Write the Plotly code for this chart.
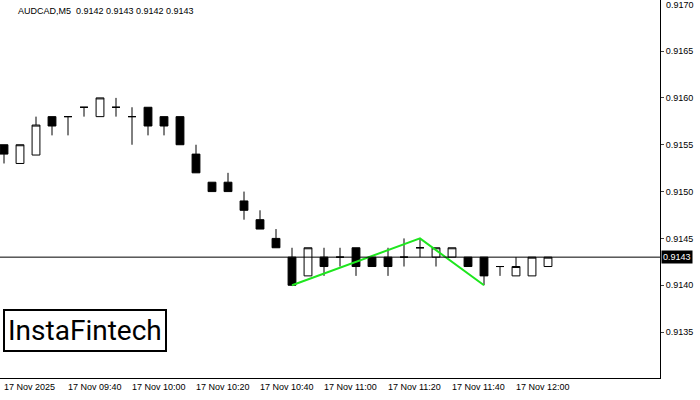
import plotly.graph_objects as go

times = ["09:20","09:25","09:30","09:35","09:40","09:45","09:50","09:55","10:00","10:05","10:10","10:15","10:20","10:25","10:30","10:35","10:40","10:45","10:50","10:55","11:00","11:05","11:10","11:15","11:20","11:25","11:30","11:35","11:40","11:45","11:50","11:55","12:00","12:05","12:10"]
opens  = [0.9155,0.9153,0.91539,0.9158,0.9158,0.9159,0.9158,0.9159,0.9158,0.9159,0.9158,0.9158,0.9154,0.9151,0.9151,0.9149,0.9147,0.9145,0.9143,0.9141,0.9143,0.9143,0.9144,0.9143,0.9143,0.9143,0.9144,0.9143,0.9143,0.9143,0.9143,0.9142,0.9141,0.9141,0.9142]
highs  = [0.9155,0.9155,0.9158,0.9158,0.9158,0.9159,0.9160,0.9160,0.9159,0.9159,0.9158,0.9158,0.9155,0.9151,0.9152,0.9150,0.9148,0.9146,0.9144,0.9144,0.9144,0.9144,0.9144,0.9143,0.9144,0.9145,0.9145,0.9144,0.9144,0.9143,0.9143,0.9142,0.9143,0.9143,0.9143]
lows   = [0.9153,0.9153,0.91539,0.9156,0.9156,0.9158,0.9158,0.9158,0.9155,0.9156,0.9156,0.9155,0.9152,0.9150,0.9150,0.9147,0.9146,0.9144,0.9140,0.9141,0.9141,0.9142,0.9141,0.9142,0.9141,0.9142,0.9143,0.9142,0.9143,0.9142,0.9140,0.9141,0.9141,0.9141,0.9142]
closes = [0.9154,0.9155,0.91571,0.9157,0.9158,0.9159,0.9160,0.9159,0.9158,0.9157,0.9157,0.9155,0.9152,0.9150,0.9150,0.9148,0.9146,0.9144,0.9140,0.9144,0.9142,0.9143,0.9142,0.9142,0.9142,0.9143,0.9144,0.9144,0.9144,0.9142,0.9141,0.9142,0.9142,0.9143,0.9143]
pattern_idx = [18, 26, 30]
pattern_val = [0.9140, 0.9145, 0.9140]
tick_idx = [0,4,8,12,16,20,24,28,32]
tick_text = ["17 Nov 2025","17 Nov 09:40","17 Nov 10:00","17 Nov 10:20","17 Nov 10:40","17 Nov 11:00","17 Nov 11:20","17 Nov 11:40","17 Nov 12:00"]
y_ticks = [0.9135,0.9140,0.9145,0.9150,0.9155,0.9160,0.9165,0.9170]
current = 0.9143

idx = list(range(len(times)))
fig = go.Figure()
fig.add_trace(go.Candlestick(x=idx, open=opens, high=highs, low=lows, close=closes,
    increasing=dict(line=dict(color="black", width=1), fillcolor="white"),
    decreasing=dict(line=dict(color="black", width=1), fillcolor="black"),
    whiskerwidth=0, showlegend=False, hoverinfo="skip"))
fig.add_trace(go.Scatter(x=pattern_idx, y=pattern_val, mode="lines",
    line=dict(color="#1ee61e", width=2), showlegend=False, hoverinfo="skip"))
fig.add_hline(y=current, line=dict(color="black", width=1))

fig.update_layout(
    width=700, height=400, margin=dict(l=0, r=40, t=0, b=22, autoexpand=False),
    plot_bgcolor="white", paper_bgcolor="white",
    font=dict(family="Liberation Sans", size=9, color="black"),
    xaxis=dict(range=[-0.25, 41], showgrid=False, showticklabels=False, ticks="", automargin=False,
               rangeslider=dict(visible=False), showline=True, mirror=True, linecolor="black", zeroline=False),
    yaxis=dict(range=[0.91301, 0.917045], side="right", tickvals=y_ticks[:-1], automargin=False,
               tickformat=".4f", ticks="outside", ticklen=3, showgrid=False,
               showline=True, mirror=True, linecolor="black", zeroline=False,
               tickfont=dict(size=9)),
)
fig.add_annotation(x=1, y=y_ticks[-1], xref="paper", yref="y", text=f"{y_ticks[-1]:.4f}",
                   showarrow=False, xanchor="left", xshift=4, yshift=-1, font=dict(size=9))
for i, t in zip(tick_idx, tick_text):
    fig.add_annotation(x=i, y=0, xref="x", yref="paper", text=t, showarrow=False,
                       xanchor="left", yanchor="top", yshift=-2, xshift=-2, font=dict(size=9))
fig.add_annotation(x=1, y=current, xref="paper", yref="y", text="0.9143", showarrow=False,
                   xanchor="left", xshift=1, bgcolor="black", font=dict(color="white", size=9), borderpad=1)
fig.add_annotation(x=0, y=1, xref="paper", yref="paper", text="AUDCAD,M5  0.9142 0.9143 0.9142 0.9143",
                   showarrow=False, xanchor="left", yanchor="top", xshift=16, yshift=-4, font=dict(size=9))
fig.add_annotation(x=0.004, y=0.91352, xref="paper", yref="y", text="InstaFintech", showarrow=False,
                   xanchor="left", yanchor="middle", font=dict(size=28, color="black", family="Roboto"),
                   bordercolor="black", borderwidth=2, borderpad=3, bgcolor="white")
fig.write_html("out.html", config={"displayModeBar": False})
with open("out.html", encoding="utf-8") as f:
    html = f.read()
html = html.replace("<body>", '<body style="margin:0;overflow:hidden">', 1)
with open("out.html", "w", encoding="utf-8") as f:
    f.write(html)
